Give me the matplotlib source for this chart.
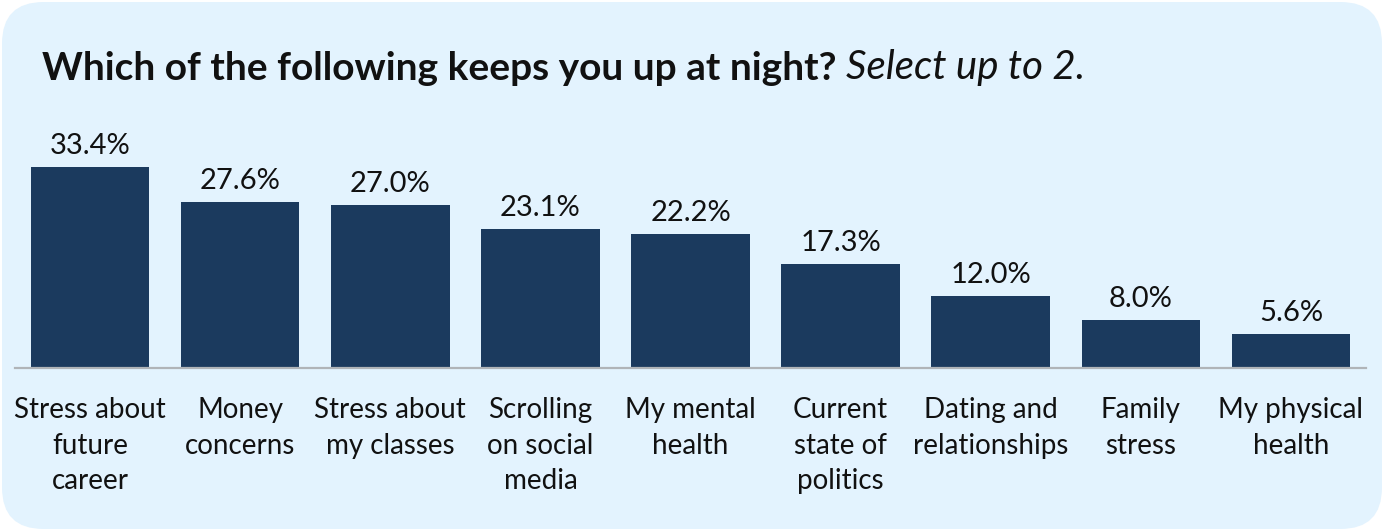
import matplotlib.pyplot as plt
from matplotlib.patches import FancyBboxPatch

categories = ['Stress about\nfuture\ncareer', 'Money\nconcerns', 'Stress about\nmy classes',
              'Scrolling\non social\nmedia', 'My mental\nhealth', 'Current\nstate of\npolitics',
              'Dating and\nrelationships', 'Family\nstress', 'My physical\nhealth']
values = [33.4, 27.6, 27.0, 23.1, 22.2, 17.3, 12.0, 8.0, 5.6]
labels = ['33.4%', '27.6%', '27.0%', '23.1%', '22.2%', '17.3%', '12.0%', '8.0%', '5.6%']

plt.rcParams['font.family'] = ['Lato', 'DejaVu Sans']

W, H = 1384, 531
fig = plt.figure(figsize=(W / 100, H / 100), dpi=100, facecolor='white')

# rounded light blue panel
panel = FancyBboxPatch((2 / W, 2 / H), 1 - 4 / W, 1 - 4 / H,
                       boxstyle='round,pad=0,rounding_size=0.03',
                       transform=fig.transFigure, facecolor='#e3f3fe', edgecolor='none',
                       mutation_aspect=W / H, zorder=-10)
fig.patches.append(panel)

ax = fig.add_axes([15 / W, (H - 368) / H, 1351 / W, 217 / H])
ax.patch.set_alpha(0)
ax.bar(range(len(values)), values, width=0.79, color='#1b3a5e')
for i, (v, t) in enumerate(zip(values, labels)):
    ax.text(i, v + 1.3, t, ha='center', va='bottom', fontsize=21, color='#111111')

ax.set_xlim(-0.5, len(values) - 0.5)
ax.set_ylim(0, 36)
ax.set_xticks(range(len(values)))
ax.set_xticklabels(categories, fontsize=20, color='#111111', linespacing=1.45)
ax.tick_params(axis='x', length=0, pad=21)
ax.set_yticks([])
for s in ['top', 'right', 'left']:
    ax.spines[s].set_visible(False)
ax.spines['bottom'].set_color('#b0b4b8')
ax.spines['bottom'].set_linewidth(1.6)

t1 = fig.text(42 / W, 1 - 80 / H, 'Which of the following keeps you up at night? ',
              fontsize=28, fontweight='bold', color='#111111', va='baseline')
t2 = ax.annotate('Select up to 2.', xy=(1, 0), xycoords=t1, va='bottom', ha='left',
                 fontsize=29, fontstyle='italic', color='#111111', annotation_clip=False)

fig.savefig('out.png', dpi=100, facecolor='white')
